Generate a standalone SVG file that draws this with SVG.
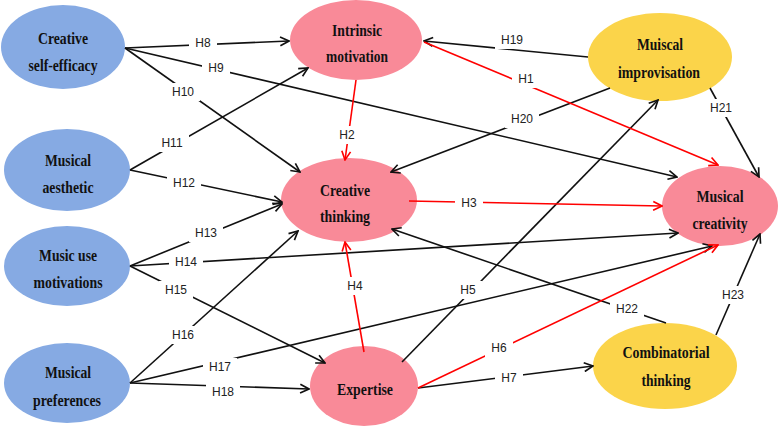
<svg xmlns="http://www.w3.org/2000/svg" width="778" height="427" viewBox="0 0 778 427">
<defs>
<style>
.blue{fill:#86aae3}
.pink{fill:#f98a98}
.yellow{fill:#fbd44a}
.nt{font-family:"Liberation Serif","Times New Roman",serif;font-weight:bold;font-size:16px;fill:#111;text-anchor:middle}
.e{fill:none;stroke:#111;stroke-width:1.6}
.r{fill:none;stroke:#f00;stroke-width:1.6}
.lb{font-family:"Liberation Sans",Arial,sans-serif;font-size:12px;fill:#222;text-anchor:middle}
.bg{fill:#fff}
</style>
<marker id="ab" viewBox="0 0 10 10" refX="9" refY="5" markerWidth="11" markerHeight="11" markerUnits="userSpaceOnUse" orient="auto">
<path d="M1,1 L9,5 L1,9" fill="none" stroke="#111" stroke-width="1.5"/>
</marker>
<marker id="ar" viewBox="0 0 10 10" refX="9" refY="5" markerWidth="11" markerHeight="11" markerUnits="userSpaceOnUse" orient="auto">
<path d="M1,1 L9,5 L1,9" fill="none" stroke="#f00" stroke-width="1.5"/>
</marker>
</defs>
<rect width="778" height="427" fill="#fff"/>
<g id="node-cse"><ellipse class="blue" cx="63" cy="47" rx="62" ry="42"/><text class="nt" x="63" y="44" textLength="50" lengthAdjust="spacingAndGlyphs">Creative</text><text class="nt" x="63" y="71" textLength="69" lengthAdjust="spacingAndGlyphs">self-efficacy</text></g>
<g id="node-ma"><ellipse class="blue" cx="67" cy="170" rx="63" ry="41"/><text class="nt" x="68" y="166" textLength="46" lengthAdjust="spacingAndGlyphs">Musical</text><text class="nt" x="68" y="193" textLength="51" lengthAdjust="spacingAndGlyphs">aesthetic</text></g>
<g id="node-mum"><ellipse class="blue" cx="67" cy="266" rx="63" ry="40"/><text class="nt" x="68" y="261" textLength="58" lengthAdjust="spacingAndGlyphs">Music use</text><text class="nt" x="68" y="288" textLength="69" lengthAdjust="spacingAndGlyphs">motivations</text></g>
<g id="node-mp"><ellipse class="blue" cx="67" cy="383" rx="63" ry="40"/><text class="nt" x="68" y="378" textLength="46" lengthAdjust="spacingAndGlyphs">Musical</text><text class="nt" x="67" y="406" textLength="68" lengthAdjust="spacingAndGlyphs">preferences</text></g>
<g id="node-im"><ellipse class="pink" cx="356" cy="40" rx="66" ry="40"/><text class="nt" x="357" y="36" textLength="50" lengthAdjust="spacingAndGlyphs">Intrinsic</text><text class="nt" x="357" y="62" textLength="62" lengthAdjust="spacingAndGlyphs">motivation</text></g>
<g id="node-ct"><ellipse class="pink" cx="349" cy="200" rx="68" ry="42"/><text class="nt" x="345" y="196" textLength="50" lengthAdjust="spacingAndGlyphs">Creative</text><text class="nt" x="345" y="222" textLength="50" lengthAdjust="spacingAndGlyphs">thinking</text></g>
<g id="node-ex"><ellipse class="pink" cx="364" cy="386" rx="54" ry="40"/><text class="nt" x="365" y="395" textLength="56" lengthAdjust="spacingAndGlyphs">Expertise</text></g>
<g id="node-mi"><ellipse class="yellow" cx="660" cy="57" rx="72" ry="44"/><text class="nt" x="660" y="50" textLength="46" lengthAdjust="spacingAndGlyphs">Muiscal</text><text class="nt" x="659" y="78" textLength="82" lengthAdjust="spacingAndGlyphs">improvisation</text></g>
<g id="node-mc"><ellipse class="pink" cx="720" cy="206" rx="58" ry="40"/><text class="nt" x="720" y="202" textLength="47" lengthAdjust="spacingAndGlyphs">Musical</text><text class="nt" x="720" y="229" textLength="55" lengthAdjust="spacingAndGlyphs">creativity</text></g>
<g id="node-cmt"><ellipse class="yellow" cx="665" cy="366" rx="72" ry="43"/><text class="nt" x="666" y="358" textLength="87" lengthAdjust="spacingAndGlyphs">Combinatorial</text><text class="nt" x="666" y="386" textLength="49" lengthAdjust="spacingAndGlyphs">thinking</text></g>
<g id="connectors">
<line class="e" x1="125" y1="48" x2="289" y2="41" marker-end="url(#ab)"/>
<line class="e" x1="125" y1="48" x2="677" y2="177" marker-end="url(#ab)"/>
<line class="e" x1="125" y1="48" x2="300" y2="172" marker-end="url(#ab)"/>
<line class="e" x1="130" y1="170" x2="308" y2="68" marker-end="url(#ab)"/>
<line class="e" x1="130" y1="170" x2="282" y2="202" marker-end="url(#ab)"/>
<line class="e" x1="130" y1="266" x2="282" y2="204" marker-end="url(#ab)"/>
<line class="e" x1="130" y1="266" x2="678" y2="233" marker-end="url(#ab)"/>
<line class="e" x1="130" y1="266" x2="325" y2="363" marker-end="url(#ab)"/>
<line class="e" x1="130" y1="383" x2="298" y2="231" marker-end="url(#ab)"/>
<line class="e" x1="130" y1="383" x2="712" y2="246" marker-end="url(#ab)"/>
<line class="e" x1="130" y1="383" x2="309" y2="389" marker-end="url(#ab)"/>
<line class="e" x1="588" y1="57" x2="424" y2="41" marker-end="url(#ab)"/>
<line class="e" x1="610" y1="88" x2="391" y2="172" marker-end="url(#ab)"/>
<line class="e" x1="710" y1="88" x2="759" y2="177" marker-end="url(#ab)"/>
<line class="e" x1="402" y1="362" x2="658" y2="100" marker-end="url(#ab)"/>
<line class="e" x1="418" y1="388" x2="593" y2="366" marker-end="url(#ab)"/>
<line class="e" x1="666" y1="323" x2="392" y2="229" marker-end="url(#ab)"/>
<line class="e" x1="716" y1="335" x2="760" y2="234" marker-end="url(#ab)"/>
<line class="r" x1="424" y1="42" x2="718" y2="165" marker-end="url(#ar)"/>
<line class="r" x1="356" y1="80" x2="345" y2="160" marker-end="url(#ar)"/>
<line class="r" x1="409" y1="201" x2="662" y2="206" marker-end="url(#ar)"/>
<line class="r" x1="364" y1="352" x2="345" y2="242" marker-end="url(#ar)"/>
<line class="r" x1="418" y1="388" x2="718" y2="245" marker-end="url(#ar)"/>
<g id="labels">
<rect class="bg" x="189" y="34" width="28" height="18"/><text class="lb" x="203" y="47">H8</text>
<rect class="bg" x="202" y="59" width="28" height="18"/><text class="lb" x="216" y="72">H9</text>
<rect class="bg" x="166" y="83" width="34" height="18"/><text class="lb" x="183" y="96">H10</text>
<rect class="bg" x="155" y="134" width="34" height="18"/><text class="lb" x="172" y="147">H11</text>
<rect class="bg" x="167" y="174" width="34" height="18"/><text class="lb" x="184" y="187">H12</text>
<rect class="bg" x="189" y="224" width="34" height="18"/><text class="lb" x="206" y="237">H13</text>
<rect class="bg" x="169" y="253" width="34" height="18"/><text class="lb" x="186" y="266">H14</text>
<rect class="bg" x="159" y="281" width="34" height="18"/><text class="lb" x="176" y="294">H15</text>
<rect class="bg" x="166" y="326" width="34" height="18"/><text class="lb" x="183" y="339">H16</text>
<rect class="bg" x="203" y="358" width="34" height="18"/><text class="lb" x="220" y="371">H17</text>
<rect class="bg" x="206" y="383" width="34" height="18"/><text class="lb" x="223" y="396">H18</text>
<rect class="bg" x="495" y="31" width="34" height="18"/><text class="lb" x="512" y="44">H19</text>
<rect class="bg" x="505" y="110" width="34" height="18"/><text class="lb" x="522" y="123">H20</text>
<rect class="bg" x="704" y="99" width="34" height="18"/><text class="lb" x="721" y="112">H21</text>
<rect class="bg" x="610" y="300" width="34" height="18"/><text class="lb" x="627" y="313">H22</text>
<rect class="bg" x="716" y="286" width="34" height="18"/><text class="lb" x="733" y="299">H23</text>
<rect class="bg" x="512" y="70" width="28" height="18"/><text class="lb" x="526" y="83">H1</text>
<rect class="bg" x="333" y="126" width="28" height="18"/><text class="lb" x="347" y="139">H2</text>
<rect class="bg" x="455" y="194" width="28" height="18"/><text class="lb" x="469" y="207">H3</text>
<rect class="bg" x="341" y="277" width="28" height="18"/><text class="lb" x="355" y="290">H4</text>
<rect class="bg" x="454" y="281" width="28" height="18"/><text class="lb" x="468" y="294">H5</text>
<rect class="bg" x="485" y="339" width="28" height="18"/><text class="lb" x="499" y="352">H6</text>
<rect class="bg" x="495" y="369" width="28" height="18"/><text class="lb" x="509" y="382">H7</text>
</g>
</g>
</svg>
